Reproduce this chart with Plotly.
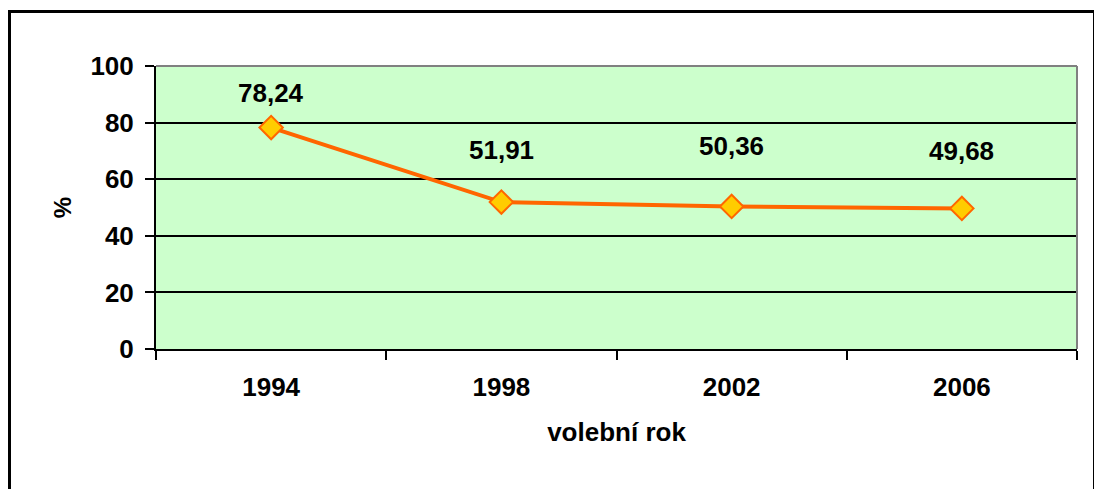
import plotly.graph_objects as go

years = ["1994", "1998", "2002", "2006"]
values = [78.24, 51.91, 50.36, 49.68]
labels = ["78,24", "51,91", "50,36", "49,68"]
label_shift = [35, 52, 60, 57]  # pixel offsets of data labels above points (style)

# page has an 8px body margin, so the figure is sized to end at the window edge
W, H = 1094, 481
L, R, T, B = 148, 25, 58, 140
pw, ph = W - L - R, H - T - B

font = "Liberation Sans, Arial, sans-serif"

fig = go.Figure()
fig.add_trace(go.Scatter(
    x=years, y=values, mode="lines+markers",
    line=dict(color="#FF6600", width=4),
    marker=dict(symbol="diamond", size=18, color="#FFCC00",
                line=dict(color="#FF6600", width=2)),
    showlegend=False, hoverinfo="x+y",
))

for i, (y, t, s) in enumerate(zip(values, labels, label_shift)):
    fig.add_annotation(x=i, y=y, xref="x", yref="y", text="<b>%s</b>" % t,
                       showarrow=False, yshift=s,
                       font=dict(family=font, size=26, color="black"))

def px_x(p):  # figure pixel -> paper x
    return (p - L) / pw

def px_y(p):  # figure pixel (from top) -> paper y
    return (T + ph - p) / ph

fig.update_layout(
    width=W, height=H,
    margin=dict(l=L, r=R, t=T, b=B, pad=0),
    paper_bgcolor="white", plot_bgcolor="#CCFFCC",
    font=dict(family=font, color="black"),
    xaxis=dict(
        type="category", range=[-0.5, 3.5], tickson="boundaries",
        showgrid=False, showline=True, linecolor="black", linewidth=2,
        ticks="outside", ticklen=9, tickwidth=2, tickcolor="black",
        tickfont=dict(family=font, size=26), ticklabelstandoff=14,
        tickprefix="<b>", ticksuffix="</b>",
        title=dict(text="<b>volební rok</b>", font=dict(family=font, size=26), standoff=22),
        zeroline=False, fixedrange=True,
    ),
    yaxis=dict(
        range=[0, 100], dtick=20, showgrid=True, gridcolor="black", gridwidth=2,
        showline=True, linecolor="black", linewidth=2,
        ticks="outside", ticklen=9, tickwidth=2, tickcolor="black",
        tickfont=dict(family=font, size=26), ticklabelstandoff=6,
        tickprefix="<b>", ticksuffix="</b>",
        title=dict(text="<b>%</b>", font=dict(family=font, size=24), standoff=12),
        zeroline=False, fixedrange=True,
    ),
    shapes=[
        dict(type="line", xref="paper", yref="paper", x0=0, x1=1, y0=1, y1=1,
             line=dict(color="#808080", width=2)),
        dict(type="line", xref="paper", yref="paper", x0=1, x1=1, y0=0, y1=1,
             line=dict(color="#808080", width=2)),
        dict(type="rect", xref="paper", yref="paper",
             x0=px_x(1.5), x1=px_x(1086.5), y0=px_y(520), y1=px_y(3.5),
             line=dict(color="black", width=3), fillcolor="rgba(0,0,0,0)", layer="below"),
    ],
)

fig.write_html("out.html")
